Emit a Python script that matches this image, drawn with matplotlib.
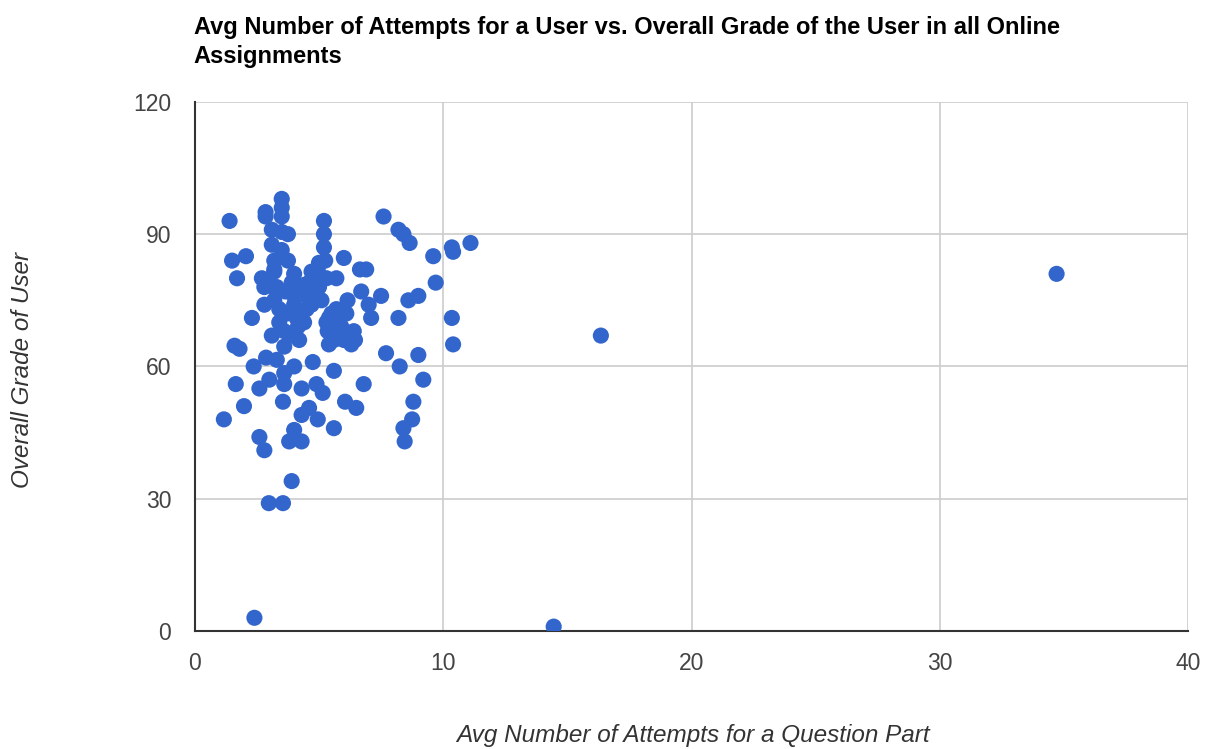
import matplotlib.pyplot as plt

plt.rcParams["font.family"] = ["Liberation Sans", "DejaVu Sans"]

# avg attempts per question part
attempts = [
    1.17, 1.4, 1.5, 1.7, 1.6, 1.8, 1.65, 1.98, 2.06, 2.3, 2.37, 2.4, 2.6, 2.6, 2.8,
    2.85, 2.85, 2.7, 2.8, 2.8, 2.87, 2.98, 3.0, 3.1, 3.1, 3.1, 3.2, 3.2, 3.2, 3.3,
    3.4, 3.5, 3.5, 3.5, 3.5, 3.5, 3.55, 3.55, 3.6, 3.6, 3.6, 3.75, 3.75, 3.65, 3.8,
    3.9, 4.0, 4.0, 4.0, 4.0, 4.15, 4.2, 4.3, 4.3, 4.3, 4.4, 4.5, 4.6, 4.7, 4.7,
    4.75, 4.9, 4.95, 4.95, 5.0, 5.0, 5.1, 5.15, 5.2, 5.2, 5.2, 5.25, 5.3, 5.35, 5.4,
    5.6, 5.6, 5.7, 5.7, 5.85, 6.0, 6.0, 6.05, 6.15, 6.3, 6.45, 6.5, 6.65, 6.7, 6.8,
    6.9, 7.0, 7.1, 7.6, 7.5, 7.7, 8.2, 8.25, 8.2, 8.4, 8.4, 8.45, 8.65, 8.6, 8.75,
    8.8, 9.0, 9.0, 9.2, 9.6, 9.7, 10.35, 10.4, 10.35, 10.4, 11.1, 14.45, 16.35, 34.7,
    # denser core of the cluster
    3.0, 3.3, 3.4, 3.7, 3.9, 4.1, 4.2, 4.5, 4.6, 4.8, 5.0, 5.3, 5.5, 5.8, 6.2,
    3.2, 3.6, 4.4, 4.8, 5.4, 5.6, 6.1, 4.0, 3.9, 4.7, 5.5, 3.3, 4.6, 5.9, 6.4,
]
# overall grade of user
grades = [
    48, 93, 84, 80, 64.7, 64, 56, 51, 85, 71, 60, 3, 55, 44, 41,
    95, 94, 80, 78, 74, 62, 29, 57, 67, 91, 87.6, 84, 81.5, 75, 61.5,
    73, 98, 96, 94, 90.5, 86.4, 52, 29, 56, 58.5, 64.5, 90, 84, 77, 43,
    34, 45.6, 76, 81, 60, 69, 66, 43, 49, 55, 78.5, 76, 50.6, 81.5, 74,
    61, 56, 48, 82, 83.5, 78, 75, 54, 93, 90, 87, 84, 80, 68, 65,
    59, 46, 73, 80, 68, 66, 84.6, 52, 75, 65, 66, 50.6, 82, 77, 56,
    82, 74, 71, 94, 76, 63, 71, 60, 91, 90, 46, 43, 88, 75, 48,
    52, 62.6, 76, 57, 85, 79, 87, 86, 71, 65, 88, 1, 67, 81,
    79, 77, 70, 72, 79, 71, 78, 73, 79, 77, 80, 70, 72, 70, 67,
    82, 68, 70, 80, 71, 66, 72, 74, 67, 76, 69, 78, 77, 69, 68,
]

fig = plt.figure(figsize=(12.1, 7.49), dpi=100)
ax = fig.add_axes([0.161, 0.1575, 0.821, 0.7065])

ax.scatter(attempts, grades, s=135, color="#3366cc", edgecolors="none", zorder=3)

ax.set_xlim(0, 40)
ax.set_ylim(0, 120)
ax.set_xticks([0, 10, 20, 30, 40])
ax.set_yticks([0, 30, 60, 90, 120])
ax.grid(True, color="#cccccc", linewidth=1.2)
ax.set_axisbelow(True)
ax.tick_params(length=0, labelsize=16.5, colors="#444444")
ax.tick_params(axis="x", pad=15)
ax.tick_params(axis="y", pad=17)

for side in ("top", "right"):
    ax.spines[side].set_visible(False)
for side in ("left", "bottom"):
    ax.spines[side].set_color("#333333")
    ax.spines[side].set_linewidth(1.5)

fig.text(0.573, 0.018, "Avg Number of Attempts for a Question Part", fontsize=17.5,
         style="italic", color="#333333", ha="center", va="center")
fig.text(0.019, 0.506, "Overall Grade of User", fontsize=17.5, style="italic",
         color="#333333", ha="center", va="center", rotation=90)

fig.text(0.16, 0.978, "Avg Number of Attempts for a User vs. Overall Grade of the User in all Online\nAssignments",
         fontsize=17, fontweight="bold", va="top", ha="left", linespacing=1.3)

fig.savefig("out.png", dpi=100)
